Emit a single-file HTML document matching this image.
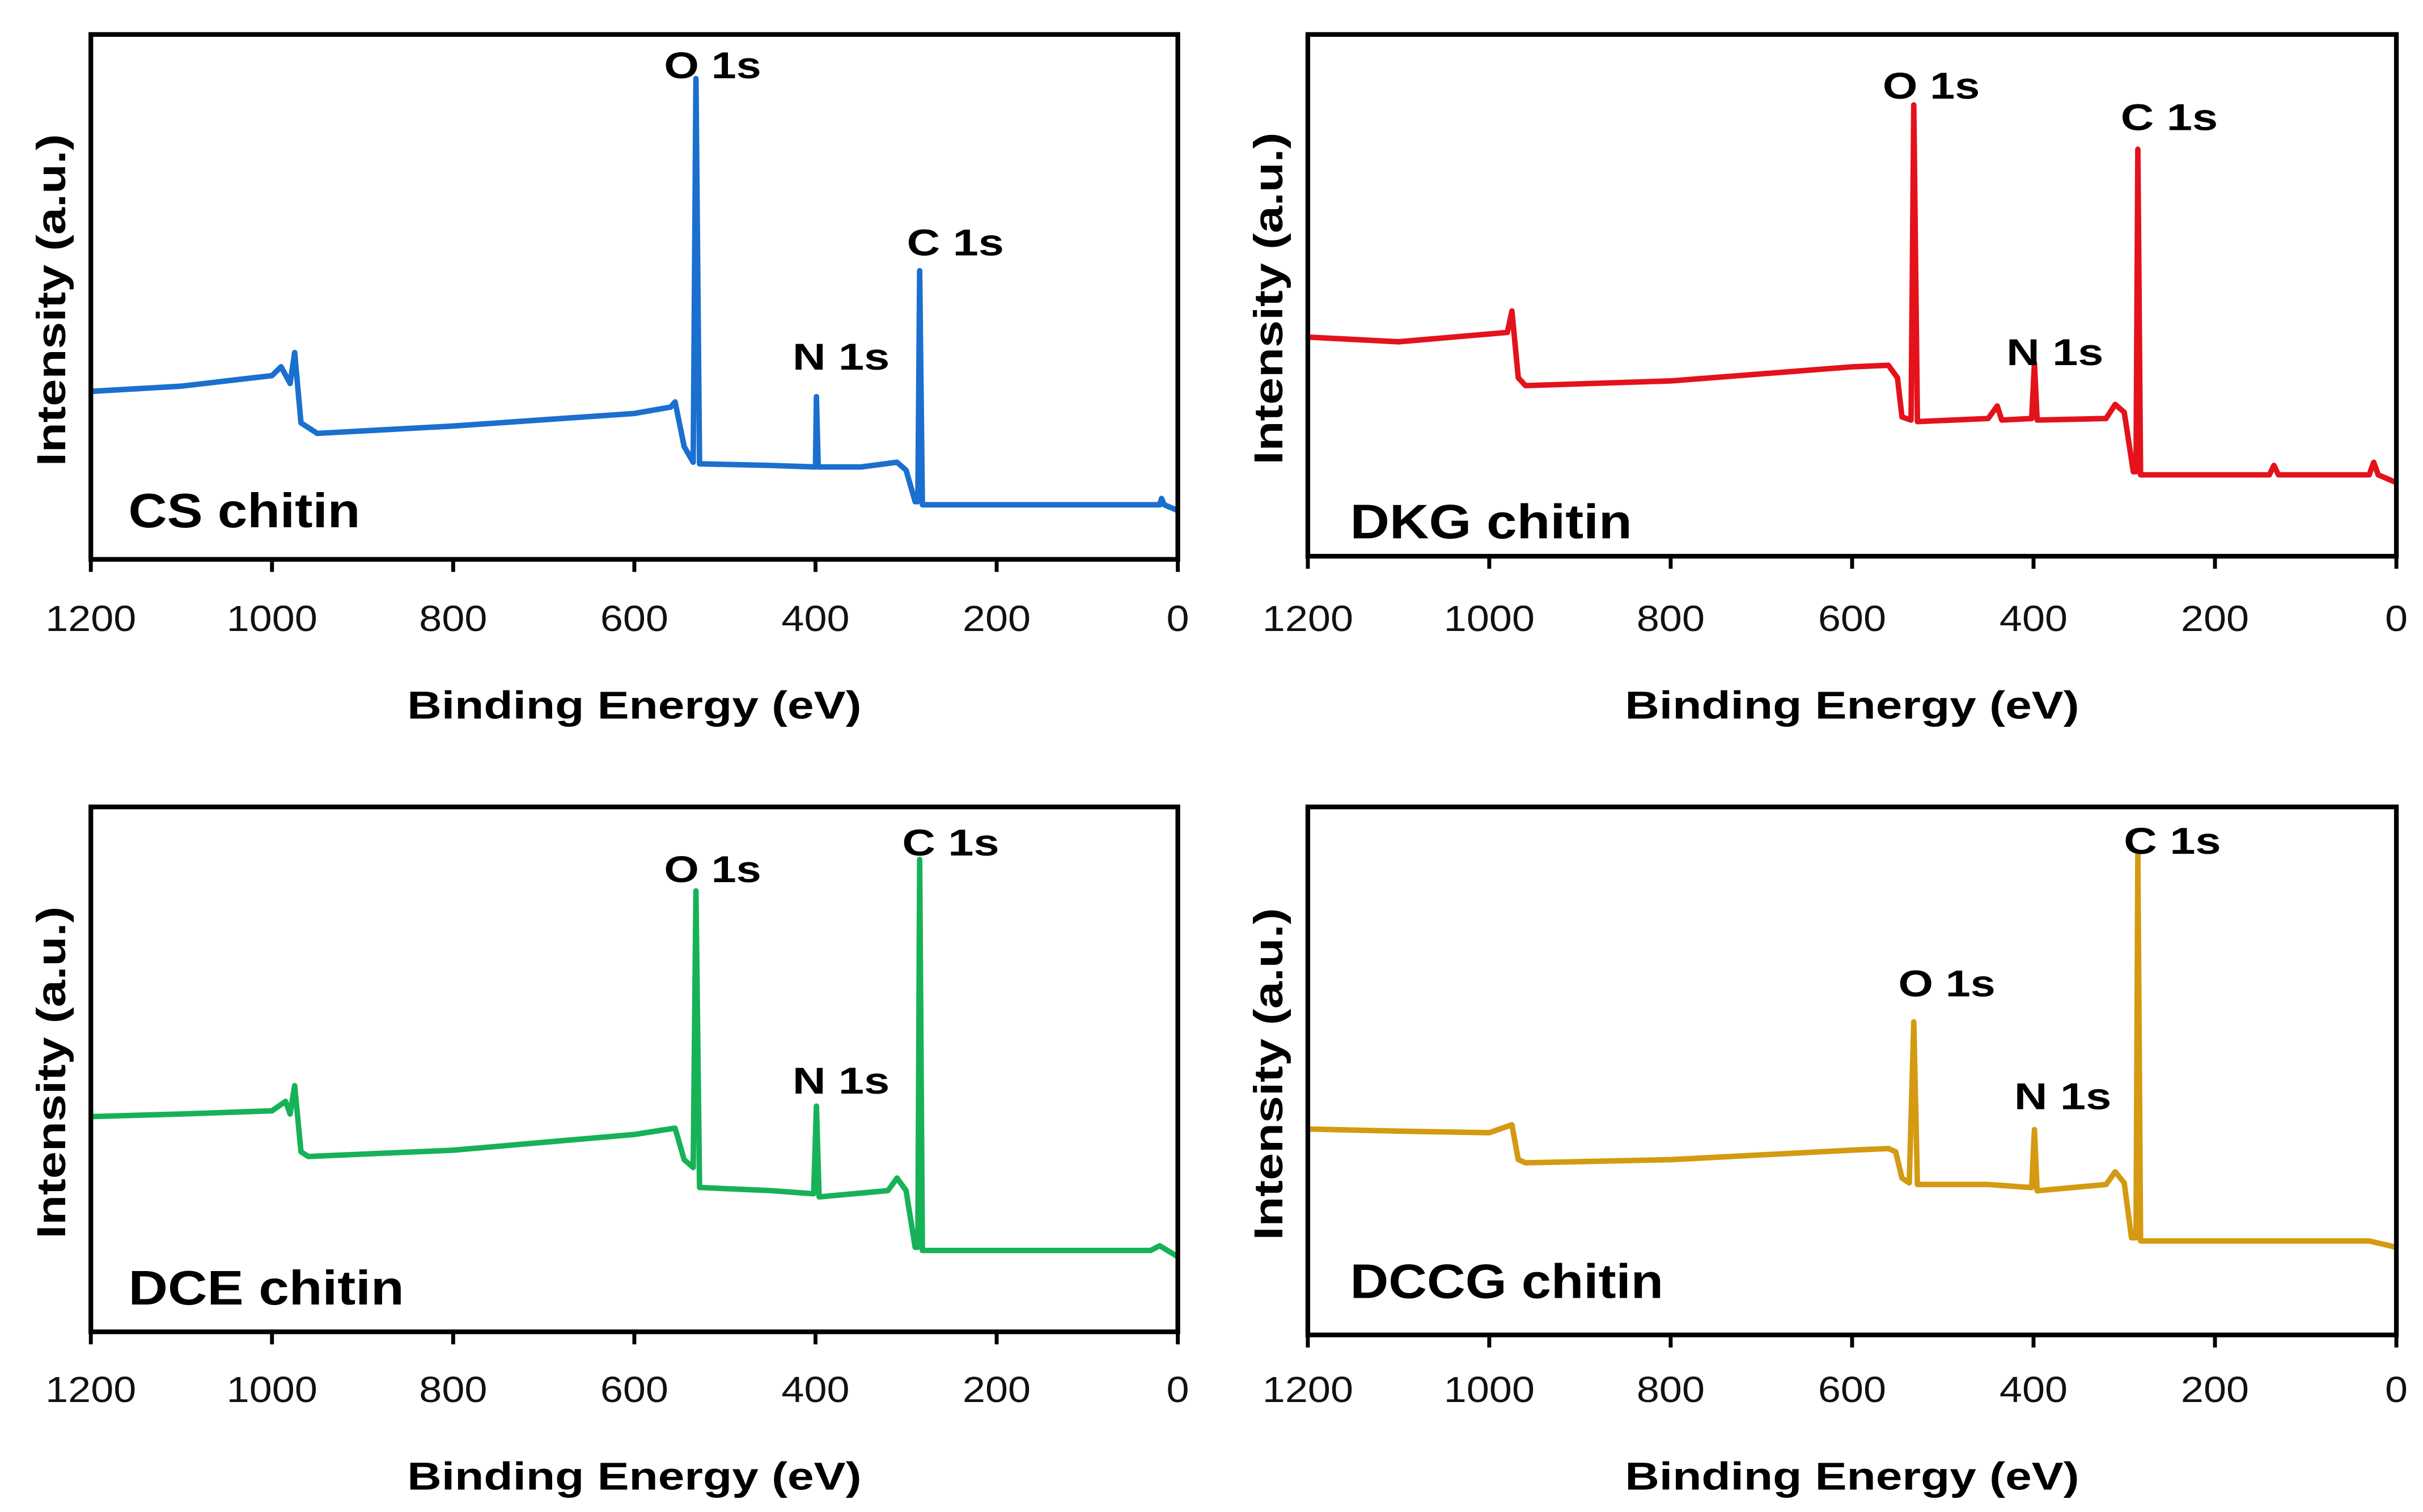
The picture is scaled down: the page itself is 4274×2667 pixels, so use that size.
<!DOCTYPE html>
<html><head><meta charset="utf-8"><style>
html,body{margin:0;padding:0;background:#fff;}
svg{display:block;font-family:"Liberation Sans",Arial,sans-serif;}
</style></head><body>
<svg id="fig" width="4274" height="2667" viewBox="0 0 1547 965" preserveAspectRatio="none" xmlns="http://www.w3.org/2000/svg"></svg>
<script>
const ticks = [1200, 1000, 800, 600, 400, 200, 0];
const csEnergy = [1200,1100,1000,990,980,975,968,950,800,600,560,555,545,535,532,528,450,400,399,397,350,310,300,290,287,285,282,100,20,18,15,0];
const csIntensity = [32,33,35,36.7,33.5,39.4,26,24,25.4,27.8,29,30,21.5,18.5,91.6,18.2,17.9,17.6,31,17.6,17.6,18.5,17,11,11,55,10.4,10.4,10.4,11.6,10.4,9.3];
const dkgEnergy = [1200,1100,1000,980,975,968,960,800,600,560,550,545,535,532,528,450,440,435,402,399,396,320,310,300,290,287,285,282,140,135,130,30,25,20,0];
const dkgIntensity = [42,41.1,42.6,42.9,47,34.2,32.7,33.6,36.3,36.6,34.2,26.7,26.1,86.5,25.8,26.4,28.8,26.1,26.4,37,26.1,26.4,29.1,27.6,16.2,16.2,78,15.6,15.6,17.4,15.6,15.6,18,15.6,14.1];
const dceEnergy = [1200,1100,1000,985,980,975,968,960,800,600,555,545,535,532,528,450,402,399,396,320,310,300,290,287,285,282,30,20,0];
const dceIntensity = [41,41.5,42.1,43.9,41.5,46.9,34.3,33.4,34.6,37.6,38.8,32.8,31.3,84,27.5,26.9,26.3,43,25.7,26.9,29.3,26.9,16.1,16.1,90,15.5,15.5,16.4,14.3];
const dccgEnergy = [1200,1100,1000,975,968,960,800,600,560,552,545,537,532,528,450,402,399,396,320,310,300,292,287,285,282,30,0];
const dccgIntensity = [39,38.6,38.3,39.8,33.2,32.6,33.2,35,35.3,34.7,29.7,28.8,59.3,28.5,28.5,27.9,38.9,27.3,28.5,30.9,28.8,18.4,18.4,91,17.8,17.8,16.6];

const panels = [
 {id:'cs', name:'CS chitin', E:csEnergy, I:csIntensity, color:'#1b6fce', x0:58,x1:752,y0:22,y1:357,
  labels:[['O 1s',455,42],['N 1s',537,228],['C 1s',610,155]], nameXY:[82,326], nameW:148, tickY:395, titleY:450},
 {id:'dkg', name:'DKG chitin', E:dkgEnergy, I:dkgIntensity, color:'#e3121b', x0:835,x1:1530,y0:22,y1:355,
  labels:[['O 1s',1233,55],['N 1s',1312,225],['C 1s',1385,75]], nameXY:[862,333], nameW:180, tickY:395, titleY:450},
 {id:'dce', name:'DCE chitin', E:dceEnergy, I:dceIntensity, color:'#17b257', x0:58,x1:752,y0:515,y1:850,
  labels:[['O 1s',455,555],['N 1s',537,690],['C 1s',607,538]], nameXY:[82,822], nameW:176, tickY:887, titleY:942},
 {id:'dccg', name:'DCCG chitin', E:dccgEnergy, I:dccgIntensity, color:'#d39a12', x0:835,x1:1530,y0:515,y1:852,
  labels:[['O 1s',1243,628],['N 1s',1317,700],['C 1s',1387,537]], nameXY:[862,818], nameW:200, tickY:887, titleY:942}
];
const NS='http://www.w3.org/2000/svg';
const svg=document.getElementById('fig');
function mk(tag,attrs,parent){const e=document.createElementNS(NS,tag);for(const k in attrs)e.setAttribute(k,attrs[k]);(parent||svg).appendChild(e);return e;}
panels.forEach(p=>{
  const g=mk('g',{});
  
  
  const xs=e=>p.x0+(1200-e)/1200*(p.x1-p.x0);
  const ys=v=>p.y1-v/100*(p.y1-p.y0);
  let d='';
  p.E.forEach((e,i)=>{d+=(i?'L':'M')+xs(e).toFixed(2)+','+ys(p.I[i]).toFixed(2);});
  const line=mk('path',{d:d,fill:'none',stroke:p.color,'stroke-width':3.5,'stroke-linejoin':'round'},g);
  
  
  const fr=mk('rect',{x:p.x0,y:p.y0,width:p.x1-p.x0,height:p.y1-p.y0,fill:'none',stroke:'#000','stroke-width':3},g);
  
  
  ticks.forEach(t=>{
    const x=xs(t);
    const tk=mk('line',{x1:x,x2:x,y1:p.y1,y2:p.y1+8,stroke:'#000','stroke-width':2.5},g);
    
    
    const s=String(t);
    const tl=mk('text',{x:x,y:p.tickY,'font-size':23,'text-anchor':'middle','dominant-baseline':'central',fill:'#111',textLength:s.length*14.5,lengthAdjust:'spacingAndGlyphs'},g);
    tl.textContent=s;
    
    
  });
  const xt=mk('text',{x:(p.x0+p.x1)/2,y:p.titleY,'font-size':25,'font-weight':'bold','text-anchor':'middle','dominant-baseline':'central',textLength:290,lengthAdjust:'spacingAndGlyphs'},g);
  xt.textContent='Binding Energy (eV)';
  
  
  const cy=(p.y0+p.y1)/2+2, cx=p.x0-25;
  const yt=mk('text',{x:cx,y:cy,'font-size':26,'font-weight':'bold','text-anchor':'middle','dominant-baseline':'central',transform:'rotate(-90 '+cx+' '+cy+')',textLength:212,lengthAdjust:'spacingAndGlyphs'},g);
  yt.textContent='Intensity (a.u.)';
  
  
  p.labels.forEach(l=>{
    const t=mk('text',{x:l[1],y:l[2],'font-size':24,'font-weight':'bold','text-anchor':'middle','dominant-baseline':'central',textLength:62,lengthAdjust:'spacingAndGlyphs'},g);
    t.textContent=l[0];
    
    
  });
  const nm=mk('text',{x:p.nameXY[0],y:p.nameXY[1],'font-size':31,'font-weight':'bold','dominant-baseline':'central',textLength:p.nameW,lengthAdjust:'spacingAndGlyphs'},g);
  nm.textContent=p.name;
  
  
});
</script>
</body></html>
